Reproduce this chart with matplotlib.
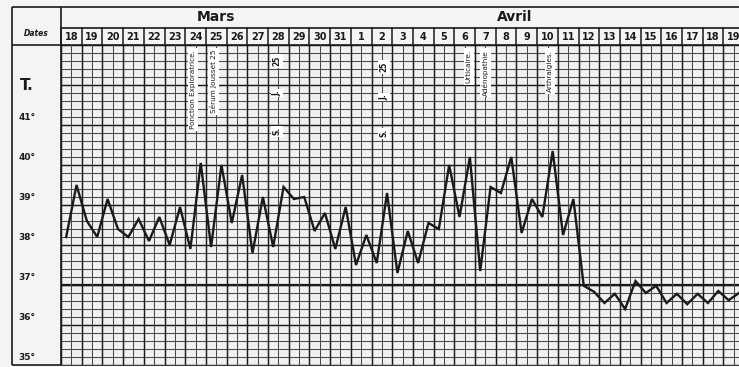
import numpy as np
import matplotlib.pyplot as plt
from matplotlib.transforms import blended_transform_factory

W, H = 739, 367

# one column per day, two readings (matin / soir) per day
DAYS = list(range(18, 32)) + list(range(1, 20))
MONTHS = ["Mars", "Avril"]
MONTH_POS = [7.5, 21.9]  # in day columns

TEMPS = [
    38.2, 39.5, 38.6, 38.2, 39.15, 38.4, 38.2, 38.65, 38.1, 38.7,
    38.0, 38.95, 37.9, 40.05, 37.95, 40.0, 38.55, 39.75, 37.8, 39.2,
    37.95, 39.45, 39.15, 39.2, 38.35, 38.8, 37.9, 38.95, 37.5, 38.25,
    37.55, 39.3, 37.3, 38.35, 37.55, 38.55, 38.4, 40.0, 38.7, 40.2,
    37.35, 39.45, 39.3, 40.2, 38.3, 39.15, 38.7, 40.35, 38.25, 39.15,
    36.98, 36.83, 36.55, 36.78, 36.4, 37.1, 36.8, 36.98, 36.55, 36.78,
    36.52, 36.78, 36.55, 36.85, 36.62, 36.8,
]

Y_LABEL_VALUES = [35, 36, 37, 38, 39, 40, 41]
Y_LABELS = ["35°", "36°", "37°", "38°", "39°", "40°", "41°"]

NOTES = ["Ponction Exploratrice.", "Sérum Jousset 25", "Urticaire.",
         "Adénopathie", "Arthralgies."]
NOTE_X = [12.75, 14.7, 39.4, 41.0, 47.2]  # half-day units
SJ_WORDS = ["25", "J.", "S."]
SJ_X = [20.9, 31.2]
SJ_Y = [[42.6, 41.8, 40.85], [42.45, 41.7, 40.8]]

INK = "#1a1a1a"
GRID = "#4a4a4a"

fig = plt.figure(figsize=(W / 100, H / 100), dpi=100)
fig.patch.set_facecolor("#f4f4f4")

# frame of the printed sheet, in pixel coordinates
bg = fig.add_axes([0, 0, 1, 1])
bg.set_xlim(0, W)
bg.set_ylim(H, 0)
bg.axis("off")
for xs, ys in [([12, W], [7, 7]), ([12, 12], [7, 365]), ([12, W], [365, 365]),
               ([12, W], [45, 45]), ([61, W], [28, 28]), ([61, 61], [7, 365])]:
    bg.plot(xs, ys, color=INK, lw=1.2, solid_capstyle="butt")
bg.text(36, 33, "Dates", fontsize=5.5, fontweight="bold", fontstyle="italic",
        ha="center", va="center", color=INK)

ax = fig.add_axes([61 / W, (H - 365) / H, (W - 61) / W, 320 / H])
ax.set_facecolor("#f0f0f0")
ax.set_xlim(0, 65.5)
ax.set_ylim(35, 43)
for s in ax.spines.values():
    s.set_visible(False)
ax.set_xticks([])
ax.set_yticks([])

# grid: 0.2 degree rows, half-day columns
for i, yv in enumerate(np.arange(35, 43.001, 0.2)):
    major = i % 5 == 0
    ax.axhline(yv, color=INK if major else GRID, lw=1.05 if major else 0.75, zorder=1)
ax.axhline(37, color=INK, lw=1.6, zorder=1)
for xv in range(0, 66):
    major = xv % 2 == 0
    ax.axvline(xv, color=INK if major else GRID, lw=1.05 if major else 0.75, zorder=1)

x = np.arange(len(TEMPS)) + 0.5
ax.plot(x, TEMPS, color=INK, lw=1.7, zorder=5, solid_joinstyle="miter")

# header rows
blend = blended_transform_factory(ax.transData, ax.transAxes)
for i, d in enumerate(DAYS):
    ax.text(2 * i + 1, 1.025, str(d), transform=blend, ha="center", va="center",
            fontsize=7, fontweight="bold", color=INK, clip_on=False)
    ax.plot([2 * i, 2 * i], [1.0, 1.053], transform=blend, color=INK, lw=1.1,
            clip_on=False)
for name, pos in zip(MONTHS, MONTH_POS):
    ax.text(2 * pos, 1.087, name, transform=blend, ha="center", va="center",
            fontsize=10, fontweight="semibold", color=INK, clip_on=False)

# temperature scale on the left
yblend = blended_transform_factory(ax.transAxes, ax.transData)
for v, lab in zip(Y_LABEL_VALUES, Y_LABELS):
    ax.text(-0.05, v + 0.18, lab, transform=yblend, ha="center", va="center",
            fontsize=6.5, fontweight="bold", color=INK, clip_on=False)
ax.text(-0.05, 42.0, "T.", transform=yblend, ha="center", va="center",
        fontsize=11, fontweight="bold", color=INK, clip_on=False)

# clinical notes written in the columns
box = dict(facecolor="white", edgecolor="none", pad=1.4)
for xv, note in zip(NOTE_X, NOTES):
    ax.text(xv, 42.88, note, rotation=90, ha="center", va="top", fontsize=5.2,
            color=INK, bbox=box, zorder=6)
for xv, ys in zip(SJ_X, SJ_Y):
    for yv, w in zip(ys, SJ_WORDS):
        ax.text(xv, yv, w, rotation=90, ha="center", va="center", fontsize=5.5,
                fontweight="bold", color=INK, zorder=6,
                bbox=dict(facecolor="white", edgecolor="none", pad=1.0))

fig.savefig("out.png", dpi=100, facecolor=fig.get_facecolor())
